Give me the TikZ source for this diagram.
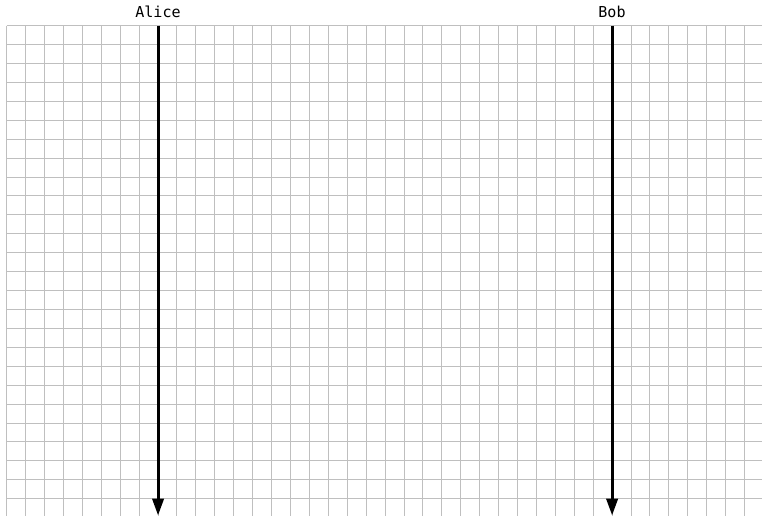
\documentclass[tikz,border=0pt]{standalone}
\usepackage{fontspec}
\setmonofont{DejaVu Sans Mono}
\usetikzlibrary{arrows.meta}
\begin{document}
\begin{tikzpicture}[x=0.75pt,y=-0.75pt,
  gridline/.style={draw=black!25,line width=0.75pt},
  lifeline/.style={draw=black,line width=2.3pt,-{Triangle[length=12.75pt,width=8.5pt]}},
  actor/.style={font=\ttfamily\fontsize{11.3}{13}\selectfont,anchor=base,inner sep=0pt}]
\useasboundingbox (0,0) rectangle (762,516);
\begin{scope}
\clip (0,0) rectangle (762,516);
\foreach \i in {0,...,40} \draw[gridline] ({6.7+18.92*\i},25.7) -- ({6.7+18.92*\i},520);
\foreach \j in {0,...,26} \draw[gridline] (6.7,{25.7+18.92*\j}) -- (770,{25.7+18.92*\j});
\end{scope}
\node[actor] (alice) at (158,18) {Alice};
\node[actor] (bob) at (612,18) {Bob};
\coordinate (aliceTop) at (158.06,25.7);
\coordinate (aliceEnd) at (158.06,515.5);
\coordinate (bobTop) at (612.1,25.7);
\coordinate (bobEnd) at (612.1,515.5);
\draw[lifeline] (aliceTop) -- (aliceEnd);
\draw[lifeline] (bobTop) -- (bobEnd);
\end{tikzpicture}
\end{document}
